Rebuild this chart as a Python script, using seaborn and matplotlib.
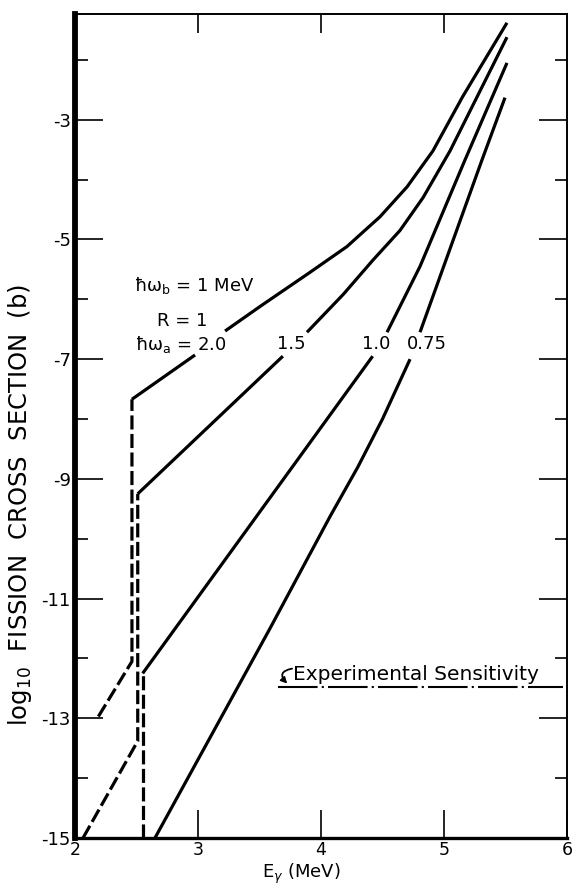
import numpy as np
import pandas as pd
import matplotlib
matplotlib.use("Agg")
import matplotlib.pyplot as plt
import seaborn as sns

# ---------------- data ----------------
# hbar*omega_a = 2.0
c20_dash_x = [2.19, 2.463, 2.463]
c20_dash_y = [-12.97, -12.05, -7.67]
c20_lo_x = [2.463, 2.976]
c20_lo_y = [-7.67, -6.93]
c20_hi_x = [3.22, 3.504, 3.91, 4.21, 4.48, 4.70, 4.91, 5.15, 5.512]
c20_hi_y = [-6.53, -6.12, -5.55, -5.12, -4.62, -4.12, -3.52, -2.62, -1.38]

# hbar*omega_a = 1.5
c15_dash_x = [2.065, 2.51, 2.51]
c15_dash_y = [-15.0, -13.38, -9.25]
c15_lo_x = [2.51, 3.69]
c15_lo_y = [-9.25, -6.95]
c15_hi_x = [3.886, 4.18, 4.42, 4.642, 4.83, 5.049, 5.512]
c15_hi_y = [-6.55, -5.92, -5.35, -4.85, -4.30, -3.52, -1.62]

# hbar*omega_a = 1.0
c10_dash_x = [2.553, 2.553]
c10_dash_y = [-15.0, -12.25]
c10_lo_x = [2.55, 4.42]
c10_lo_y = [-12.25, -6.95]
c10_hi_x = [4.537, 4.805, 5.171, 5.512]
c10_hi_y = [-6.55, -5.45, -3.67, -2.05]

# hbar*omega_a = 0.75
c075_lo_x = [2.65, 3.585, 4.073, 4.30, 4.50, 4.724]
c075_lo_y = [-15.0, -11.5, -9.63, -8.80, -8.00, -7.0]
c075_hi_x = [4.805, 5.309, 5.496]
c075_hi_y = [-6.55, -3.67, -2.63]

# experimental sensitivity
sens_x = [3.65, 5.97]
sens_y = [-12.47, -12.47]

curve_labels = ["2.0", "1.5", "1.0", "0.75"]
curve_label_x = [2.86, 3.76, 4.45, 4.86]
curve_label_y = -6.75

x_ticks = [2, 3, 4, 5, 6]
y_major = [-15, -13, -11, -9, -7, -5, -3]
y_minor = [-14, -12, -10, -8, -6, -4, -2]

# ---------------- style ----------------
sns.set_style("white")
plt.rcParams["font.family"] = ["DejaVu Sans"]
plt.rcParams["axes.unicode_minus"] = False
plt.rcParams["mathtext.fontset"] = "dejavusans"
for k in ["text.color", "axes.labelcolor", "xtick.color", "ytick.color",
          "axes.edgecolor"]:
    plt.rcParams[k] = "black"

fig = plt.figure(figsize=(5.74, 8.86), dpi=100)
ax = fig.add_axes([75 / 574, 48 / 886, 492 / 574, 824 / 886])

LW = 2.3
dash = (0, (4.4, 1.4))


def seg(xs, ys, ls="-", lw=LW):
    d = pd.DataFrame({"x": xs, "y": ys})
    sns.lineplot(data=d, x="x", y="y", ax=ax, color="black", lw=lw,
                 sort=False, estimator=None, linestyle=ls,
                 solid_capstyle="butt", dash_capstyle="butt",
                 solid_joinstyle="round")


for dx, dy in [(c20_dash_x, c20_dash_y), (c15_dash_x, c15_dash_y),
               (c10_dash_x, c10_dash_y)]:
    seg(dx, dy, ls=dash)

for xs, ys in [(c20_lo_x, c20_lo_y), (c20_hi_x, c20_hi_y),
               (c15_lo_x, c15_lo_y), (c15_hi_x, c15_hi_y),
               (c10_lo_x, c10_lo_y), (c10_hi_x, c10_hi_y),
               (c075_lo_x, c075_lo_y), (c075_hi_x, c075_hi_y)]:
    seg(xs, ys)

# experimental sensitivity line
seg(sens_x, sens_y, ls=(0, (19, 2, 1, 2)), lw=1.5)
ax.text(3.77, -12.36, "Experimental Sensitivity", fontsize=14.5,
        ha="left", va="baseline", color="black")
ax.annotate("", xy=(3.725, -12.42), xytext=(3.765, -12.17),
            arrowprops=dict(arrowstyle="-|>,head_length=0.35,head_width=0.18",
                            connectionstyle="arc3,rad=0.9", lw=1.3,
                            color="black", shrinkA=0, shrinkB=0))

# parameter labels
fs = 13
ax.text(2.97, -5.77, "ħω$_\\mathrm{b}$ = 1 MeV", fontsize=fs,
        ha="center", va="center")
ax.text(2.87, -6.37, "R = 1", fontsize=fs, ha="center", va="center")
ax.text(curve_label_x[0], curve_label_y, "ħω$_\\mathrm{a}$ = " + curve_labels[0],
        fontsize=fs, ha="center", va="center")
for lab, lx in zip(curve_labels[1:], curve_label_x[1:]):
    ax.text(lx, curve_label_y, lab, fontsize=fs, ha="center", va="center")

# ---------------- axes ----------------
ax.set_xlim(2, 6)
ax.set_ylim(-15, -1.233)

ax.set_xticks(x_ticks)
ax.set_xticklabels([str(t) for t in x_ticks])
ax.set_yticks(y_major)
ax.set_yticklabels([str(t) for t in y_major])
ax.set_yticks(y_minor, minor=True)

ax.tick_params(axis="x", which="major", direction="in", length=20, width=1.2,
               bottom=True, top=False, labelsize=12.5, pad=2.5)
ax.tick_params(axis="y", which="major", direction="in", length=20, width=1.2,
               left=True, right=True, labelsize=13, pad=3)
ax.tick_params(axis="y", which="minor", direction="in", length=9, width=1.2,
               left=True, right=True)

top = ax.secondary_xaxis("top")
top.set_xticks([3, 4, 5])
top.tick_params(direction="in", length=14, width=1.2, labeltop=False)
top.spines["top"].set_linewidth(1.2)

ax.spines["left"].set_linewidth(4.2)
ax.spines["bottom"].set_linewidth(2.4)
ax.spines["top"].set_linewidth(1.2)
ax.spines["right"].set_linewidth(1.4)
for s in ax.spines.values():
    s.set_color("black")

ax.set_xlabel(r"E$_\gamma$ (MeV)", fontsize=13)
ax.xaxis.label.set_verticalalignment("top")
ax.xaxis.set_label_coords(0.46, -0.029)
ax.set_ylabel(r"log$_{10}$  FISSION  CROSS  SECTION  (b)", fontsize=17.5)
ax.yaxis.label.set_verticalalignment("center")
ax.yaxis.set_label_coords(-0.112, 0.404)

fig.savefig("out.png", dpi=100)
